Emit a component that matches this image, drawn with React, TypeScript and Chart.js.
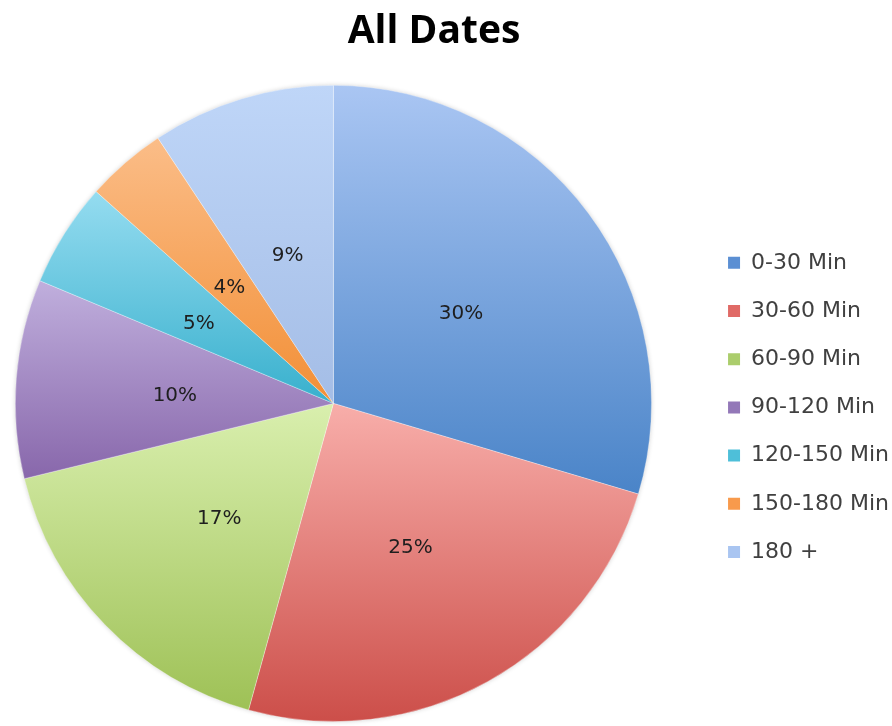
import React, { useEffect, useRef } from "react";
import { Chart, registerables } from "chart.js";

Chart.register(...registerables);

const chartTitle = "All Dates";
const categories = ["0-30 Min", "30-60 Min", "60-90 Min", "90-120 Min", "120-150 Min", "150-180 Min", "180 +"];
const shares = [29.6, 24.7, 16.9, 10.1, 5.3, 4.1, 9.3];
const topColors = ["#aac6f3", "#f8aeaa", "#d9efae", "#c0afdd", "#95dcf0", "#fbbd88", "#bfd6f8"];
const bottomColors = ["#4a84c8", "#cc4e49", "#9ec156", "#8867ab", "#38b0cd", "#f28f36", "#a4bde6"];
const legendColors = ["#5b8fd3", "#e06a66", "#abcd6c", "#9378b8", "#4ebfd9", "#f89a4c", "#a9c5f1"];

const total = shares.reduce((a, b) => a + b, 0);
const percentLabels = shares.map((v) => Math.round((v / total) * 100) + "%");

function sectorGradient(ctx: any) {
  const chart = ctx.chart;
  const area = chart.chartArea;
  const i = ctx.dataIndex;
  if (!area || i === undefined) return legendColors[i ?? 0];
  const cx = (area.left + area.right) / 2;
  const cy = (area.top + area.bottom) / 2;
  const r = Math.min(area.right - area.left, area.bottom - area.top) / 2;
  let before = 0;
  for (let k = 0; k < i; k++) before += shares[k];
  const a1 = -Math.PI / 2 + (before / total) * Math.PI * 2;
  const a2 = a1 + (shares[i] / total) * Math.PI * 2;
  const ys = [cy, cy + r * Math.sin(a1), cy + r * Math.sin(a2)];
  const within = (a: number) => {
    for (let t = a - 4 * Math.PI; t <= a + 4 * Math.PI; t += 2 * Math.PI) {
      if (t >= a1 && t <= a2) return true;
    }
    return false;
  };
  if (within(-Math.PI / 2)) ys.push(cy - r);
  if (within(Math.PI / 2)) ys.push(cy + r);
  const yMin = Math.min(...ys);
  const yMax = Math.max(...ys);
  const g = chart.ctx.createLinearGradient(0, yMin, 0, yMax);
  g.addColorStop(0, topColors[i]);
  g.addColorStop(1, bottomColors[i]);
  return g;
}

// nudges the legend and title blocks to where the original layout leaves them
const layoutOffsetPlugin = {
  id: "layoutOffset",
  afterLayout(chart: any) {
    const lg = chart.legend;
    if (lg) {
      lg.left += 35;
      lg.right += 35;
      lg.top += 4;
      lg.bottom += 4;
    }
    const tt = chart.titleBlock;
    if (tt) {
      tt.left += 2;
      tt.right += 2;
    }
  },
};

const shadowPlugin = {
  id: "pieShadow",
  beforeDatasetsDraw(chart: any) {
    const meta = chart.getDatasetMeta(0);
    const el = meta.data[0];
    if (!el) return;
    const { x, y, outerRadius } = el.getProps(["x", "y", "outerRadius"], true);
    const c = chart.ctx;
    c.save();
    c.shadowColor = "rgba(0,0,0,0.22)";
    c.shadowBlur = 5;
    c.fillStyle = "#ffffff";
    c.beginPath();
    c.arc(x, y, outerRadius - 0.5, 0, Math.PI * 2);
    c.fill();
    c.restore();
  },
};

const labelPlugin = {
  id: "sliceLabels",
  afterDatasetsDraw(chart: any) {
    const meta = chart.getDatasetMeta(0);
    const c = chart.ctx;
    c.save();
    c.font = "20px 'DejaVu Sans'";
    c.fillStyle = "#1e1e1e";
    c.textAlign = "center";
    c.textBaseline = "middle";
    meta.data.forEach((el: any, i: number) => {
      const p = el.tooltipPosition();
      c.fillText(percentLabels[i], p.x, p.y + 5);
    });
    c.restore();
  },
};

export default function App() {
  const canvasRef = useRef<HTMLCanvasElement | null>(null);

  useEffect(() => {
    if (!canvasRef.current) return;
    const chart = new Chart(canvasRef.current, {
      type: "pie",
      data: {
        labels: categories,
        datasets: [
          {
            data: shares,
            backgroundColor: sectorGradient as any,
            borderColor: "rgba(255,255,255,0.3)",
            borderWidth: 1,
          },
        ],
      },
      options: {
        responsive: false,
        animation: false,
        devicePixelRatio: 1,
        layout: { padding: { left: 0, right: 28, top: 0, bottom: 4 } },
        plugins: {
          title: {
            display: true,
            text: chartTitle,
            color: "#000000",
            font: { family: "'Open Sans'", size: 39, weight: "bold" },
            padding: { top: 8, bottom: 30 },
          },
          legend: {
            position: "right",
            fullSize: false,
            align: "center",
            labels: {
              boxWidth: 12,
              boxHeight: 12,
              padding: 26.2,
              color: "#404040",
              font: { family: "'DejaVu Sans'", size: 22 },
              generateLabels: () =>
                categories.map((text, i) => ({
                  text,
                  fillStyle: legendColors[i],
                  strokeStyle: legendColors[i],
                  lineWidth: 0,
                  hidden: false,
                  index: i,
                  fontColor: "#404040",
                })),
            },
          },
          tooltip: { enabled: false },
        },
      },
      plugins: [layoutOffsetPlugin, shadowPlugin, labelPlugin],
    });
    return () => chart.destroy();
  }, []);

  return (
    <div style={{ position: "fixed", left: 0, top: 0, width: 892, height: 726, background: "#ffffff" }}>
      <canvas ref={canvasRef} width={892} height={726} />
    </div>
  );
}
